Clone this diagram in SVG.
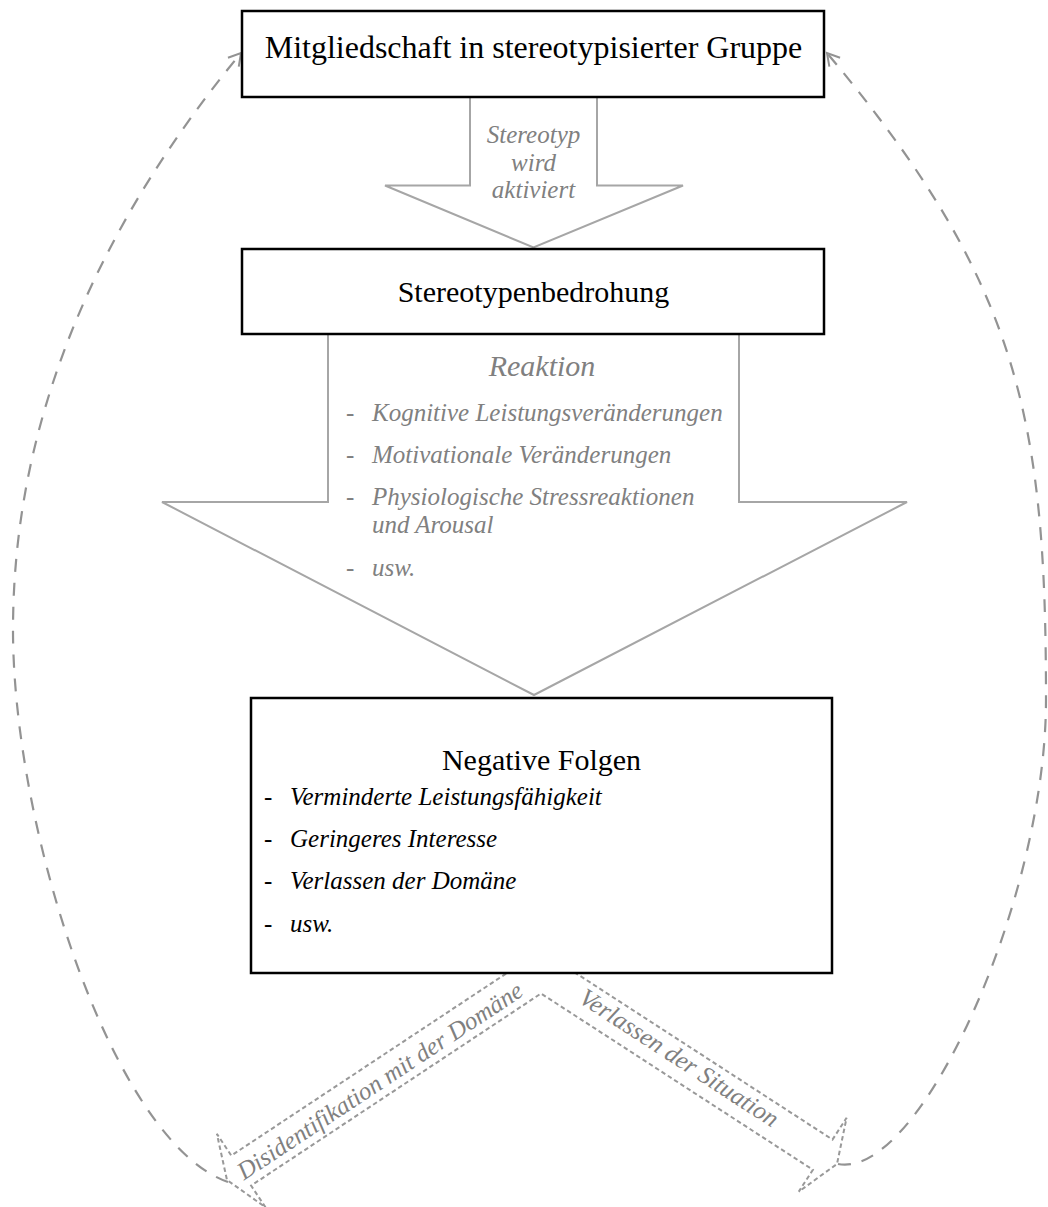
<svg xmlns="http://www.w3.org/2000/svg" width="1048" height="1207" viewBox="0 0 1048 1207">
<style>
.box{fill:#fff;stroke:#000;stroke-width:2.5}
.blk{fill:#fff;stroke:#a6a6a6;stroke-width:2}
.band{fill:#fff;stroke:#999;stroke-width:2;stroke-dasharray:4.5 3}
.curve{fill:none;stroke:#939393;stroke-width:2.2;stroke-dasharray:13 11}
text{font-family:"Liberation Serif","Times New Roman",serif}
.title{font-size:30px;fill:#000;text-anchor:middle}
.gi{font-style:italic;fill:#808080;font-size:25px}
.gc{text-anchor:middle}
.bi{font-style:italic;fill:#000;font-size:25px}
.dg{fill:#808080;font-size:25px}
.db{fill:#000;font-size:25px}
</style>
<defs>
<marker id="ah" viewBox="-15 -10 20 20" markerWidth="20" markerHeight="20" refX="0" refY="0" orient="auto" markerUnits="userSpaceOnUse">
<path d="M-12,-7 L0,0 L-12,7" fill="none" stroke="#939393" stroke-width="2" stroke-dasharray="none"/>
</marker>
</defs>
<g id="connectors">
<path id="arrow-aktiviert" class="blk" d="M470,97 L597,97 L597,185.5 L683,185.5 L533.5,247.5 L385,185.5 L470,185.5 Z"/>
<path id="arrow-reaktion" class="blk" d="M328,334 L739,334 L739,502 L907,502 L534,695 L162,502 L328,502 Z"/>
<path id="band-arrows" class="band" d="M531.1,957 L231.3,1155.6 L216.9,1133.9 L227,1180 L265.5,1207.3 L251.1,1185.6 L541,993.5 L812.9,1169.8 L798.8,1191.6 L837,1164 L846.6,1117.8 L832.5,1139.6 L550.8,956.9 L541,945 Z"/>
<path id="loop-left" class="curve" marker-end="url(#ah)" d="M228,1182 C113,1142 13,830 13,630 C13,430 89,237 241,53"/>
<path id="loop-right" class="curve" marker-end="url(#ah)" d="M838,1164 C920,1180 1046,900 1046,700 C1046,420 1020,283 827,53"/>
<text class="gi gc" x="533.5" y="143">Stereotyp</text>
<text class="gi gc" x="533.5" y="171">wird</text>
<text class="gi gc" x="533.5" y="198">aktiviert</text>
<text class="gi gc" x="542" y="376" style="font-size:30px">Reaktion</text>
<text class="dg" x="346" y="421">-</text><text class="gi" x="372" y="421">Kognitive Leistungsveränderungen</text>
<text class="dg" x="346" y="463">-</text><text class="gi" x="372" y="463">Motivationale Veränderungen</text>
<text class="dg" x="346" y="505">-</text><text class="gi" x="372" y="505">Physiologische Stressreaktionen</text>
<text class="gi" x="372" y="533">und Arousal</text>
<text class="dg" x="346" y="576">-</text><text class="gi" x="372" y="576">usw.</text>
<text class="gi gc" transform="translate(380,1081) rotate(-33.5)" x="0" y="8">Disidentifikation mit der Domäne</text>
<text class="gi gc" transform="translate(679,1058) rotate(33)" x="0" y="8">Verlassen der Situation</text>
</g>
<g id="node-gruppe">
<rect class="box" x="242" y="11" width="582" height="86"/>
<text class="title" x="533.5" y="58" style="font-size:32px">Mitgliedschaft in stereotypisierter Gruppe</text>
</g>
<g id="node-bedrohung">
<rect class="box" x="242" y="249" width="582" height="85"/>
<text class="title" x="533.5" y="302">Stereotypenbedrohung</text>
</g>
<g id="node-folgen">
<rect class="box" x="251" y="698" width="581" height="275"/>
<text class="title" x="541.5" y="770">Negative Folgen</text>
<text class="db" x="264" y="805">-</text><text class="bi" x="290" y="805">Verminderte Leistungsfähigkeit</text>
<text class="db" x="264" y="847">-</text><text class="bi" x="290" y="847">Geringeres Interesse</text>
<text class="db" x="264" y="889">-</text><text class="bi" x="290" y="889">Verlassen der Domäne</text>
<text class="db" x="264" y="932">-</text><text class="bi" x="290" y="932">usw.</text>
</g>
</svg>
